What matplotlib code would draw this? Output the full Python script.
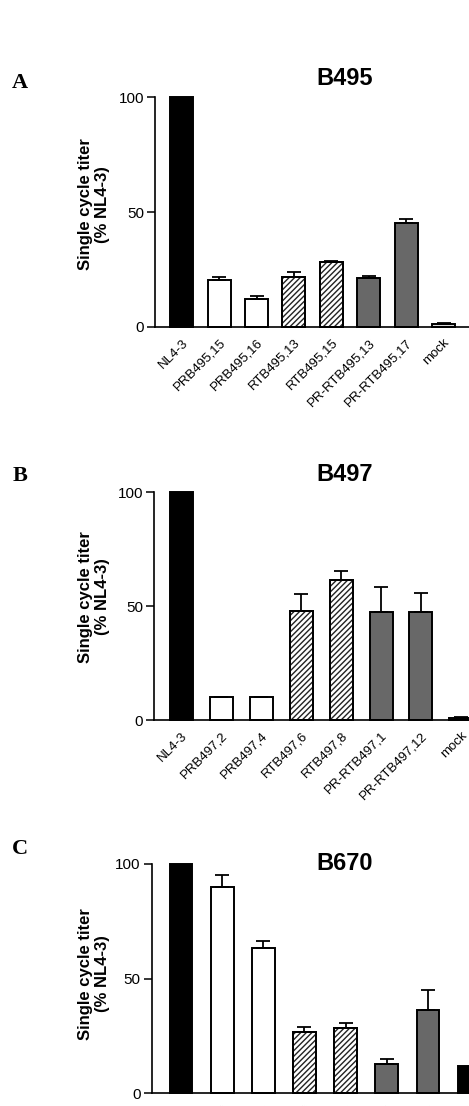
import matplotlib
matplotlib.use("Agg")
import matplotlib.pyplot as plt
import numpy as np

plt.rcParams['font.family'] = ['Liberation Sans', 'DejaVu Sans']
plt.rcParams['hatch.linewidth'] = 1.0

# ---------------- data ----------------
labels_A = ["NL4-3", "PRB495,15", "PRB495,16", "RTB495,13", "RTB495,15",
            "PR-RTB495,13", "PR-RTB495,17", "mock"]
values_A = [100, 20.5, 12.0, 21.9, 28.4, 21.3, 45.4, 1.5]
errors_A = [0, 1.3, 1.5, 2.2, 0.3, 0.9, 1.5, 0.2]

labels_B = ["NL4-3", "PRB497,2", "PRB497,4", "RTB497,6", "RTB497,8",
            "PR-RTB497,1", "PR-RTB497,12", "mock"]
values_B = [100, 10.1, 10.1, 47.9, 61.5, 47.6, 47.3, 1.0]
errors_B = [0, 0.2, 0.2, 7.4, 4.1, 11.0, 8.5, 0.1]

labels_C = ["NL4-3", "PRB670,4", "PRB670,10", "RTB670,8", "RTB670,9",
            "PR-RTB670,5", "PR-RTB670,10", "mock"]
values_C = [100, 89.7, 63.1, 26.7, 28.3, 12.8, 36.3, 11.8]
errors_C = [0, 5.5, 3.4, 2.3, 2.2, 2.3, 8.7, 0.0]

kinds = ["black", "white", "white", "hatch", "hatch", "stipple", "stipple", "mock"]
kinds_C = ["black", "white", "white", "hatch", "hatch", "stipple", "stipple", "black"]

titles = ["B495", "B497", "B670"]
letters = ["A", "B", "C"]

W, H = 469, 1106
fig = plt.figure(figsize=(W / 100, H / 100), dpi=100)

def style(kind):
    if kind == "black":
        return dict(color="black", edgecolor="black", hatch=None)
    if kind == "white":
        return dict(color="white", edgecolor="black", hatch=None)
    if kind == "hatch":
        return dict(color="white", edgecolor="#222222", hatch="//////")
    if kind == "stipple":
        return dict(color="#686868", edgecolor="black", hatch=None)
    return dict(color="#d8d8d8", edgecolor="black", hatch=None)

# panel geometry in pixels: (axis x, y of 0, y of 100, first centre, spacing)
geoms = [(155, 327.0, 97.3, 181.7, 37.4),
         (154, 720.0, 492.3, 181.5, 39.9),
         (151.7, 1093.3, 863.7, 181.5, 41.7)]
title_y = [78.5, 475, 863]
letter_y = [83.5, 476.5, 848.5]
ylab_y = [0.535, 0.54, 0.52]

panels = [(labels_A, values_A, errors_A, kinds),
          (labels_B, values_B, errors_B, kinds),
          (labels_C, values_C, errors_C, kinds_C)]

for p, ((labs, vals, errs, knd), (x0, y0, y100, c0, sp)) in enumerate(zip(panels, geoms)):
    ax = fig.add_axes([x0 / W, 1 - y0 / H, (W - x0) / W, (y0 - y100) / H])
    x = np.arange(len(labs))
    bw = 23.0 / sp
    for xi, v, e, k in zip(x, vals, errs, knd):
        st = style(k)
        ax.bar(xi, v, width=bw, color=st["color"], edgecolor=st["edgecolor"],
               hatch=st["hatch"], linewidth=1.4, clip_on=False, zorder=2)
        if k == "hatch":
            ax.bar(xi, v, width=bw, color="none", edgecolor="black",
                   linewidth=1.4, clip_on=False, zorder=3)
        if e > 0:
            ax.errorbar(xi, v, yerr=[[0], [e]], fmt="none", ecolor="black",
                        elinewidth=1.3, capsize=5, capthick=1.3, zorder=4,
                        clip_on=False)
    ax.set_xlim(-(c0 - x0) / sp, (W - c0) / sp)
    ax.set_ylim(0, 100)
    ax.set_yticks([0, 50, 100])
    ax.tick_params(axis="y", length=6, width=1.1, labelsize=11, pad=2,
                   colors="black")
    ax.set_xticks(x)
    ax.set_xticklabels(labs, rotation=45, ha="right", rotation_mode="anchor",
                       fontsize=9.5)
    ax.tick_params(axis="x", length=0, pad=7)
    for s in ["top", "right"]:
        ax.spines[s].set_visible(False)
    for s in ["left", "bottom"]:
        ax.spines[s].set_linewidth(1.2)
    ax.set_ylabel("Single cycle titer\n(% NL4-3)", fontsize=12,
                  fontweight="bold", linespacing=1.15)
    ax.yaxis.set_label_coords(-(x0 - 110) / (W - x0), ylab_y[p])

    fig.text(345 / W, 1 - title_y[p] / H, titles[p], fontsize=17,
             fontweight="bold", ha="center", va="center")
    fig.text(20 / W, 1 - letter_y[p] / H, letters[p], fontsize=16,
             fontweight="bold", ha="center", va="center",
             family=["Liberation Serif", "DejaVu Serif"])

fig.savefig("out.png", dpi=100)
